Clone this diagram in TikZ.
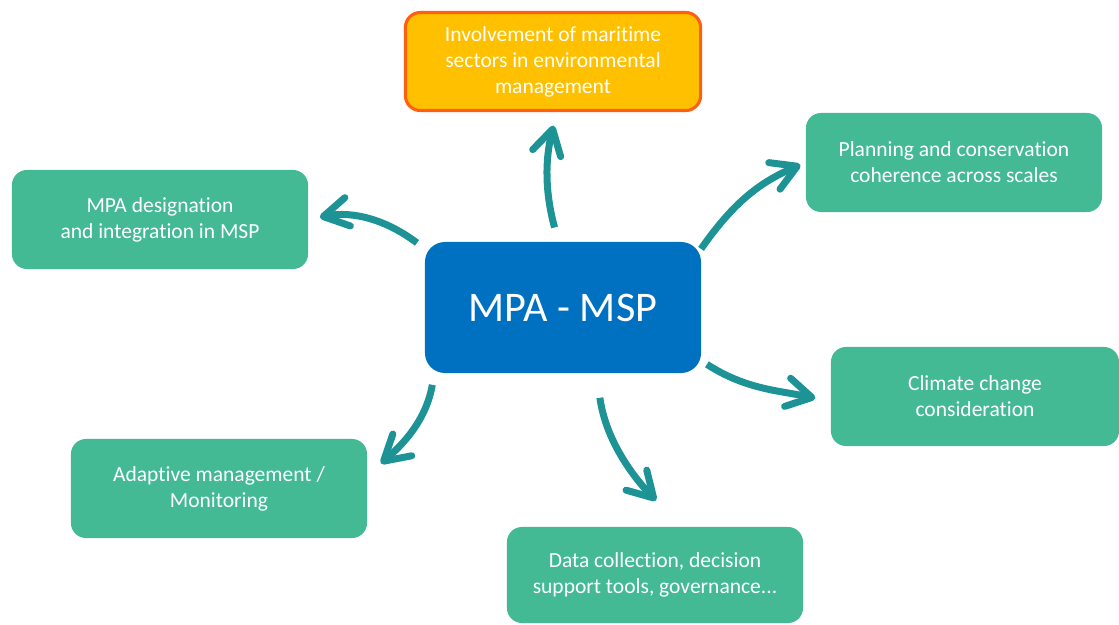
\documentclass[tikz,border=0pt]{standalone}
\usepackage{fontspec}
\setmainfont{Carlito}[Ligatures=NoCommon]
\usepackage{tikz}
\usetikzlibrary{arrows.meta}
\usepackage{xcolor}

\definecolor{boxgreen}{RGB}{67,186,148}
\definecolor{hubblue}{RGB}{0,112,192}
\definecolor{linkteal}{RGB}{30,147,150}
\definecolor{topyellow}{RGB}{255,192,0}
\definecolor{toporange}{RGB}{255,95,15}

\begin{document}
\begin{tikzpicture}[x=0.025cm, y=-0.025cm,
    every node/.style={text=white, align=center, outer sep=0pt, font=\fontsize{15.3pt}{18.5pt}\selectfont},
    topic/.style={fill=boxgreen, rounded corners=0.375cm, minimum width=7.4cm, minimum height=2.475cm},
    hub/.style={fill=hubblue, rounded corners=0.5cm, minimum width=6.9cm, minimum height=3.275cm, font=\fontsize{30pt}{34pt}\selectfont},
    link/.style={draw=linkteal, line width=0.175cm, -{Straight Barb[length=0.62cm, width=0.72cm, round]}}]
    % Page area
    \useasboundingbox (0,0) rectangle (1119,625);

    % Boxes
    \node[hub] (hub) at (563,307.5) {MPA - MSP};
    \node[topic, fill=topyellow, draw=toporange, line width=2.2pt, minimum width=7.38cm, minimum height=2.45cm] (sectors) at (553,61.5) {Involvement of maritime\\sectors in environmental\\management};
    \node[topic] (scales) at (954,162.5) {Planning and conservation\\coherence across scales};
    \node[topic] (designation) at (160,219.5) {MPA designation\\and integration in MSP};
    \node[topic, minimum width=7.2cm] (climate) at (975,396.5) {Climate change\\consideration};
    \node[topic] (adaptive) at (219,488.5) {Adaptive management /\\Monitoring};
    \node[topic, minimum height=2.4cm] (data) at (655,575) {Data collection, decision\\support tools, governance...};

    % Arrows
    \draw[link, shorten <=0.375cm, shorten >=0.39cm] (hub.94) to[out=105, in=256] (sectors.-85);
    \draw[link, shorten <=0.25cm, shorten >=0.3cm] (hub.157) to[out=143, in=11] (designation.east);
    \draw[link, shorten >=0.15cm] (hub.23) to[out=55, in=203] (scales.west);
    \draw[link, shorten <=0.175cm, shorten >=0.4cm] (hub.-21) to[out=-33, in=168] (climate.182);
    \draw[link, shorten <=0.625cm, shorten >=0.92cm] (hub.-63) to[out=-82, in=134] (data.61);
    \draw[link, shorten <=0.3cm, shorten >=0.46cm] (hub.207) to[out=-100, in=41] (adaptive.5);

\end{tikzpicture}
\end{document}
